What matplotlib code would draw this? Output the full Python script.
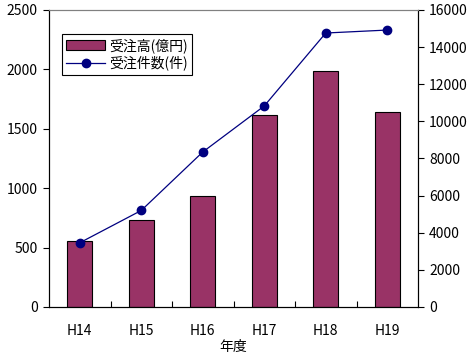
import matplotlib
matplotlib.use("Agg")
import matplotlib.pyplot as plt
import numpy as np

plt.rcParams['font.family'] = ['Noto Sans CJK JP', 'DejaVu Sans']

# data
years = ['H14', 'H15', 'H16', 'H17', 'H18', 'H19']
amount = [555, 730, 934, 1620, 1990, 1640]          # 受注高(億円)
counts = [3460, 5200, 8350, 10830, 14760, 14920]    # 受注件数(件)

fig = plt.figure(figsize=(4.77, 3.57), dpi=100)
ax = fig.add_axes([49 / 477, 50 / 357, 369 / 477, 297 / 357])
ax2 = ax.twinx()

x = np.arange(len(years))
bars = ax.bar(x, amount, width=0.41, color='#993366', edgecolor='black',
              linewidth=0.8, zorder=2)
line, = ax2.plot(x, counts, color='#000080', linewidth=0.9, marker='o',
                 markersize=6)

ax.set_xlim(-0.5, len(years) - 0.5)
ax.set_ylim(0, 2500)
ax.set_yticks(np.arange(0, 2501, 500))
ax2.set_ylim(0, 16000)
ax2.set_yticks(np.arange(0, 16001, 2000))

# category labels, ticks between categories
ax.set_xticks(x)
ax.set_xticklabels(years, fontsize=10)
ax.set_xticks(np.arange(0.5, len(years) - 1, 1), minor=True)
ax.tick_params(axis='x', which='major', length=0, pad=12)
ax.tick_params(axis='x', which='minor', length=4, direction='in', width=0.8)
ax.tick_params(axis='y', length=4, width=0.8, labelsize=10, pad=4)
ax2.tick_params(axis='y', length=4, width=0.8, labelsize=10, pad=4)
ax.set_xlabel('年度', fontsize=10, labelpad=2)

for a in (ax, ax2):
    a.spines['top'].set_color('#808080')
    a.spines['top'].set_linewidth(0.8)
    for s in ('left', 'right', 'bottom'):
        a.spines[s].set_linewidth(0.8)

leg = ax.legend([bars, line], ['受注高(億円)', '受注件数(件)'],
                loc='upper left', bbox_to_anchor=(0.035, 0.92),
                fontsize=10, frameon=True, fancybox=False, framealpha=1,
                edgecolor='black', borderpad=0.3, labelspacing=0.2,
                handlelength=2.8, handletextpad=0.3, borderaxespad=0)
leg.get_frame().set_linewidth(0.8)

fig.savefig('out.png', dpi=100)
